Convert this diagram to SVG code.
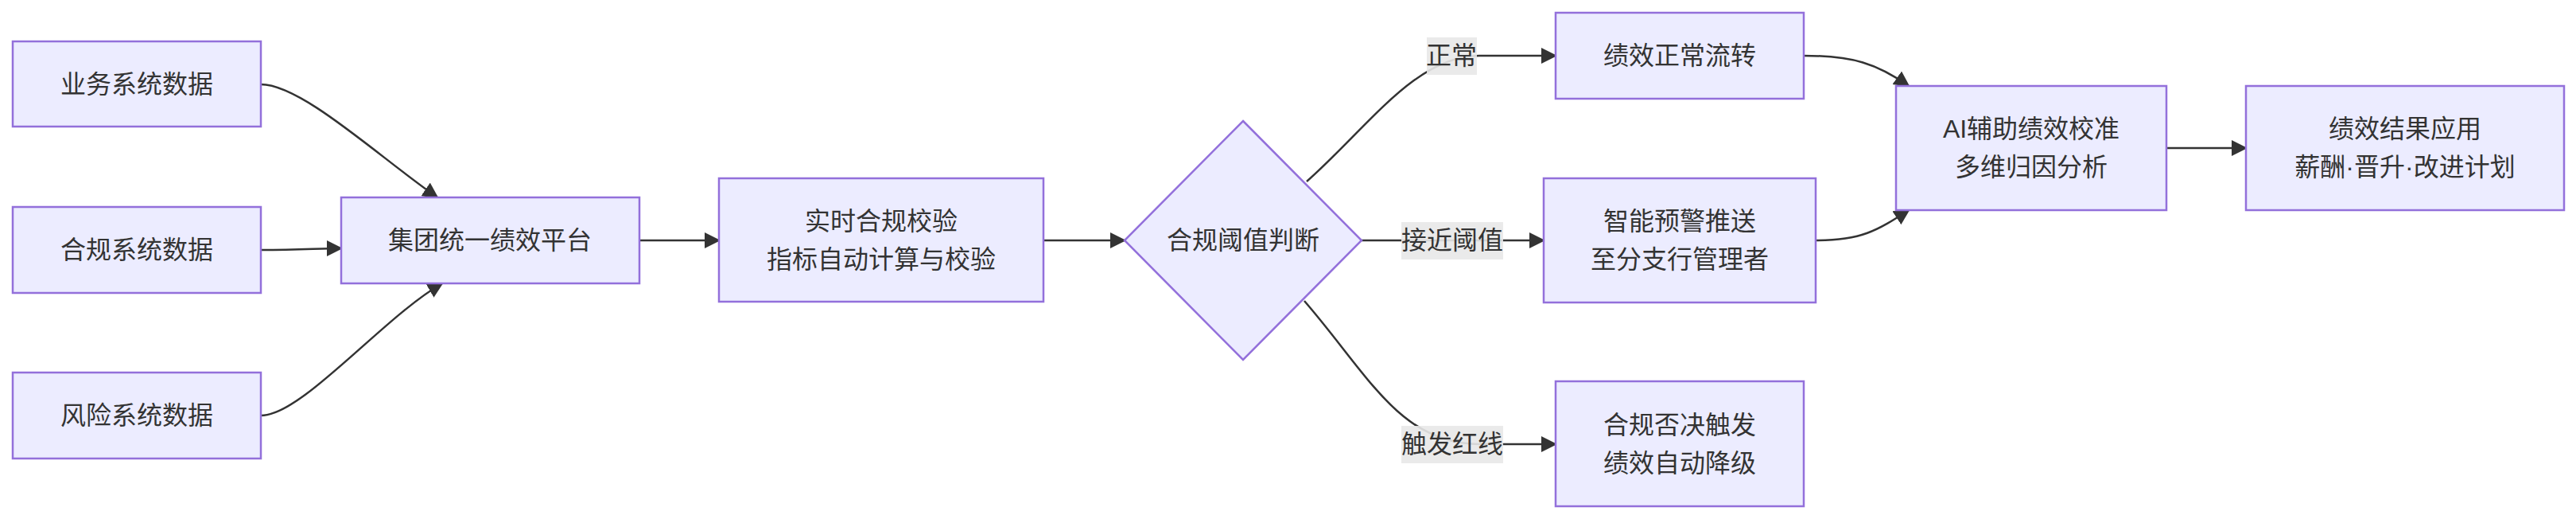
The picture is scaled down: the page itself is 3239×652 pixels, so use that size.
<svg xmlns="http://www.w3.org/2000/svg" width="3239" height="652" viewBox="0 0 3239 652">
<style>
.n{fill:#ECECFF;stroke:#9370DB;stroke-width:2.5}
.t{font-family:"Liberation Sans","Noto Sans CJK SC",sans-serif;font-size:32px;fill:#333;text-anchor:middle;dominant-baseline:central}
.e{fill:none;stroke:#333;stroke-width:2.5;marker-end:url(#a)}
.lb{fill:#e8e8e8;opacity:0.9}
</style>
<defs><marker id="a" viewBox="0 0 10 10" refX="9" refY="5" markerWidth="6" markerHeight="6" orient="auto" markerUnits="userSpaceOnUse"><path d="M0,0L10,5L0,10z" fill="#333"/></marker>
<marker id="b" viewBox="0 0 10 10" refX="9" refY="5" markerWidth="8" markerHeight="8" orient="auto"><path d="M0,0L10,5L0,10z" fill="#333"/></marker></defs>
<g id="edges">
<path class="e" style="marker-end:url(#b)" d="M328,106 C380,106 480,200 550,248"/>
<path class="e" style="marker-end:url(#b)" d="M328,314 C380,314 400,312 429,312"/>
<path class="e" style="marker-end:url(#b)" d="M328,522 C380,522 480,400 556,356"/>
<path class="e" style="marker-end:url(#b)" d="M804,302 L904,302"/>
<path class="e" style="marker-end:url(#b)" d="M1312,302 L1414,302"/>
<path class="e" style="marker-end:url(#b)" d="M1643,228 C1720,160 1780,70 1860,70 L1956,70"/>
<path class="e" style="marker-end:url(#b)" d="M1712,302 L1941,302"/>
<path class="e" style="marker-end:url(#b)" d="M1640,378 C1720,470 1760,558 1860,558 L1956,558"/>
<path class="e" style="marker-end:url(#b)" d="M2268,70 C2330,70 2360,80 2400,108"/>
<path class="e" style="marker-end:url(#b)" d="M2283,302 C2340,302 2360,290 2400,264"/>
<path class="e" style="marker-end:url(#b)" d="M2724,186 L2824,186"/>
<rect class="lb" x="1794" y="47" width="63" height="47"/><text class="t" x="1825" y="70">正常</text>
<rect class="lb" x="1762" y="279" width="128" height="47"/><text class="t" x="1826" y="302">接近阈值</text>
<rect class="lb" x="1762" y="535" width="128" height="47"/><text class="t" x="1826" y="558">触发红线</text>
</g>
<g id="n1"><rect class="n" x="16" y="52" width="312" height="107"/><text class="t" x="172" y="106">业务系统数据</text></g>
<g id="n2"><rect class="n" x="16" y="260" width="312" height="108"/><text class="t" x="172" y="314">合规系统数据</text></g>
<g id="n3"><rect class="n" x="16" y="468" width="312" height="108"/><text class="t" x="172" y="522">风险系统数据</text></g>
<g id="n4"><rect class="n" x="429" y="248" width="375" height="108"/><text class="t" x="616" y="302">集团统一绩效平台</text></g>
<g id="n5"><rect class="n" x="904" y="224" width="408" height="155"/><text class="t" x="1108" y="278">实时合规校验</text><text class="t" x="1108" y="326">指标自动计算与校验</text></g>
<g id="n6"><path class="n" d="M1563,152 L1712,302 L1563,452 L1414,302 Z"/><text class="t" x="1563" y="302">合规阈值判断</text></g>
<g id="n7"><rect class="n" x="1956" y="16" width="312" height="108"/><text class="t" x="2112" y="70">绩效正常流转</text></g>
<g id="n8"><rect class="n" x="1941" y="224" width="342" height="156"/><text class="t" x="2112" y="278">智能预警推送</text><text class="t" x="2112" y="326">至分支行管理者</text></g>
<g id="n9"><rect class="n" x="1956" y="479" width="312" height="157"/><text class="t" x="2112" y="534">合规否决触发</text><text class="t" x="2112" y="582">绩效自动降级</text></g>
<g id="n10"><rect class="n" x="2384" y="108" width="340" height="156"/><text class="t" x="2554" y="162">AI辅助绩效校准</text><text class="t" x="2554" y="210">多维归因分析</text></g>
<g id="n11"><rect class="n" x="2824" y="108" width="400" height="156"/><text class="t" x="3024" y="162">绩效结果应用</text><text class="t" x="3024" y="210">薪酬·晋升·改进计划</text></g>
</svg>
